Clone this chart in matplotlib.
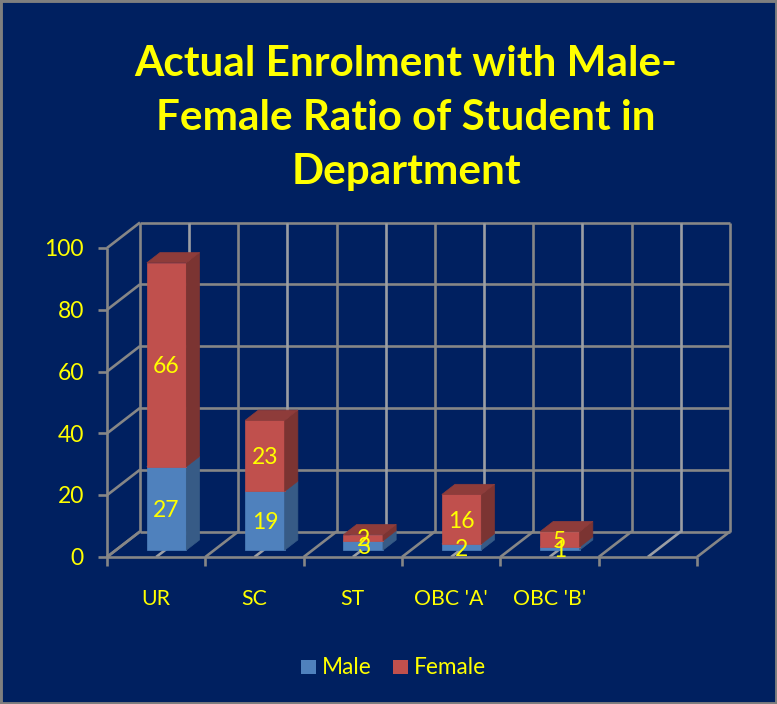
import numpy as np
import matplotlib
matplotlib.use("Agg")
import matplotlib.pyplot as plt
from matplotlib.patches import Polygon, Rectangle

plt.rcParams['font.family'] = ['Lato', 'DejaVu Sans']

# Data
categories = ["UR", "SC", "ST", "OBC 'A'", "OBC 'B'", ""]
male = [27, 19, 3, 2, 1]
female = [66, 23, 2, 16, 5]
y_ticks = [0, 20, 40, 60, 80, 100]

title = "Actual Enrolment with Male-\nFemale Ratio of Student in\nDepartment"

# Colours
bg = "#002060"
border = "#7f7f7f"
grid = "#868686"
grid_light = "#9b9ea4"
yellow = "#ffff00"
male_c = ["#4f81bd", "#375b86", "#3d6390"]      # front, side, top
female_c = ["#c0504d", "#7b3432", "#8e3c3a"]

# Scales, one category is 98.33 px, one unit is 3.09 px
W, H = 777, 704
cat_px = 98.33
val_px = 3.09
x0_px = 107
y0_px = 557
depth_x = 33 / cat_px
depth_y = 25.5 / val_px
label_dy = 2 / val_px   # text sits a little low, like the original

fig = plt.figure(figsize=(W / 100, H / 100), dpi=100, facecolor=bg)
ax = fig.add_axes([0, 0, 1, 1])
ax.set_xlim(-0.5 - x0_px / cat_px, -0.5 + (W - x0_px) / cat_px)
ax.set_ylim(-(H - y0_px) / val_px, y0_px / val_px)
ax.axis("off")


def pt(x, v, t=0.0):
    # x in categories, v in values, t is depth (0 front, 1 back wall)
    return (x + t * depth_x, v + t * depth_y)


def seg(a, b, color=grid, lw=1.9, z=1):
    ax.plot([a[0], b[0]], [a[1], b[1]], color=color, lw=lw, zorder=z, solid_capstyle="butt")


n = len(categories)
left, right = -0.5, n - 0.5
tick_x = 9 / cat_px
tick_v = 8.5 / val_px

# walls and floor
for v in y_ticks:
    seg(pt(left, v, 1), pt(right, v, 1))
    seg(pt(left, v, 0), pt(left, v, 1))
    seg((left - tick_x, v), (left, v))
for i in range(2 * n + 1):
    x = left + i / 2
    light = i % 2 == 1
    c = grid_light if light else grid
    seg(pt(x, 0, 1), pt(x, 100, 1), color=c)
    seg(pt(x, 0, 0), pt(x, 0, 1), color=c)
    if not light:
        seg((x, 0), (x, -tick_v))
seg(pt(left, 0), pt(left, 100))
seg((left, 0), (right, 0))

# bars
bar_w = 39.5 / cat_px
t_front, t_back = 0.27, 0.67
shift = 1.5 / cat_px


def box(xc, v0, v1, colors, z):
    xl, xr = xc - bar_w / 2, xc + bar_w / 2
    front = [pt(xl, v0, t_front), pt(xr, v0, t_front), pt(xr, v1, t_front), pt(xl, v1, t_front)]
    side = [pt(xr, v0, t_front), pt(xr, v0, t_back), pt(xr, v1, t_back), pt(xr, v1, t_front)]
    top = [pt(xl, v1, t_front), pt(xr, v1, t_front), pt(xr, v1, t_back), pt(xl, v1, t_back)]
    for poly, c in zip([front, side, top], colors):
        ax.add_patch(Polygon(poly, closed=True, facecolor=c, edgecolor=c, lw=0.5, zorder=z))


for i, (m, f) in enumerate(zip(male, female)):
    xc = i + shift
    box(xc, 0, m, male_c, 3)
    box(xc, m, m + f, female_c, 3)

# data labels go on top of everything
for i, (m, f) in enumerate(zip(male, female)):
    xc, yy = pt(i + shift, m / 2, t_front)
    ax.text(xc, yy - label_dy, str(m), color=yellow, fontsize=16.5, ha="center", va="center", zorder=5)
    xc, yy = pt(i + shift, m + f / 2, t_front)
    ax.text(xc, yy - label_dy, str(f), color=yellow, fontsize=16.5, ha="center", va="center", zorder=5)

# tick labels
for v in y_ticks:
    ax.text(left - 23 / cat_px, v - label_dy * 0.8, str(v), color=yellow, fontsize=16.5, ha="right", va="center")
for i, c in enumerate(categories):
    ax.text(i, -40 / val_px - label_dy, c, color=yellow, fontsize=15.3, ha="center", va="center")

# title
ax.text(-0.5 + (406 - x0_px) / cat_px, (y0_px - 118) / val_px, title, color=yellow, fontsize=30.4,
        fontweight="bold", ha="center", va="center", linespacing=1.52)

# legend
leg_y = -110 / val_px
sq_h = 14.5 / val_px
for px, c, name in [(301, male_c[0], "Male"), (393, female_c[0], "Female")]:
    xs = -0.5 + (px - x0_px) / cat_px
    ax.add_patch(Rectangle((xs, leg_y - sq_h / 2), 15 / cat_px, sq_h, facecolor=c, edgecolor="none"))
    ax.text(xs + 21 / cat_px, leg_y, name, color=yellow, fontsize=16.3, ha="left", va="center")

# picture border
fig.add_artist(Rectangle((0, 0), 1, 1, transform=fig.transFigure, fill=False, edgecolor=border, lw=3.5))

fig.savefig("out.png", dpi=100, facecolor=bg)
